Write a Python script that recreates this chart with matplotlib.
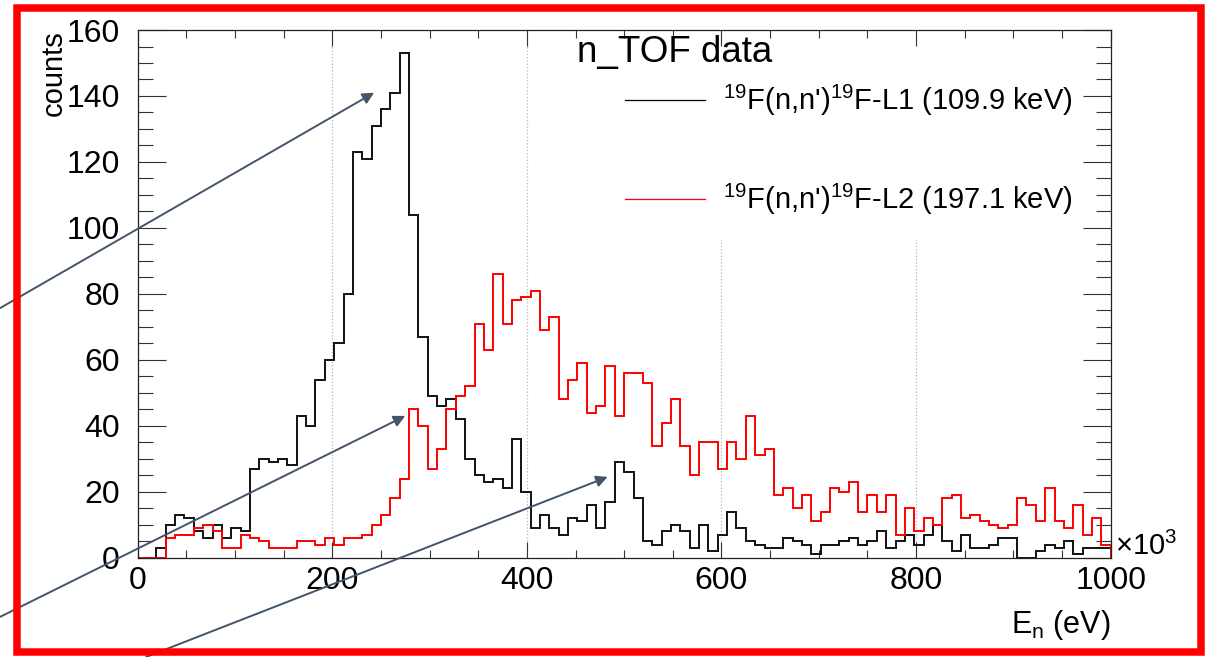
import numpy as np
import matplotlib
matplotlib.use("Agg")
import matplotlib.pyplot as plt
from matplotlib.lines import Line2D
from matplotlib.patches import Rectangle
from matplotlib.ticker import MultipleLocator

plt.rcParams['font.family'] = ['Liberation Sans', 'DejaVu Sans']
plt.rcParams['mathtext.fontset'] = 'custom'
plt.rcParams['mathtext.rm'] = 'Liberation Sans'
plt.rcParams['mathtext.default'] = 'regular'

# histogram: 104 bins between 0 and 1000 (x10^3 eV)
bin_edges = np.linspace(0, 1000, 105)

# 19F(n,n')19F-L1 (109.9 keV), black
counts_L1 = [0, 0, 3, 10, 13, 12, 8, 6, 10, 6,
             9, 8, 27, 30, 29, 30, 28, 43, 40, 54,
             60, 65, 80, 123, 121, 131, 136, 141, 153, 104,
             67, 49, 46, 48, 42, 30, 25, 23, 24, 21,
             36, 20, 9, 13, 9, 7, 12, 11, 16, 9,
             17, 29, 26, 18, 5, 4, 8, 10, 8, 3,
             10, 2, 7, 14, 9, 5, 4, 3, 3, 6,
             5, 4, 1, 4, 4, 5, 6, 4, 5, 8,
             3, 5, 7, 4, 7, 10, 5, 2, 7, 3,
             3, 4, 6, 6, 0, 0, 2, 4, 3, 5,
             1, 3, 3, 3]

# 19F(n,n')19F-L2 (197.1 keV), red
counts_L2 = [0, 0, 0, 6, 7, 7, 9, 10, 8, 3,
             3, 7, 6, 5, 3, 3, 3, 5, 5, 4,
             6, 4, 6, 6, 7, 10, 13, 18, 24, 45,
             40, 27, 33, 45, 49, 52, 71, 63, 86, 71,
             78, 79, 81, 69, 73, 48, 54, 59, 44, 46,
             58, 43, 56, 56, 53, 34, 41, 48, 34, 25,
             35, 35, 27, 35, 30, 43, 31, 33, 19, 21,
             15, 19, 11, 14, 21, 20, 23, 14, 19, 14,
             19, 7, 15, 8, 12, 10, 18, 19, 12, 13,
             11, 10, 9, 10, 18, 16, 11, 21, 11, 9,
             16, 7, 12, 4]

label_L1 = "$^{19}$F(n,n')$^{19}$F-L1 (109.9 keV)"
label_L2 = "$^{19}$F(n,n')$^{19}$F-L2 (197.1 keV)"

# arrow tips (data) and tails (figure fraction)
arrow_tips = [(243, 141), (275, 43), (483, 24.5)]
arrow_tails = [(0.0, 0.531), (0.0, 0.061), (0.121, 0.0)]

fig = plt.figure(figsize=(12.07, 6.57), dpi=100)
ax = fig.add_axes([0.1141, 0.1511, 0.8061, 0.8032])

# dotted grid at the major x ticks (below the legend box)
ax.vlines([200, 400, 600, 800], 0, 160, colors='#b5b5b5', linestyles=':', lw=0.9, zorder=0.5)
ax.add_patch(Rectangle((0.434, 0.602), 0.566, 0.398, transform=ax.transAxes,
                       facecolor='white', edgecolor='none', zorder=1))

ax.stairs(counts_L1, bin_edges, color='#111111', lw=1.4, zorder=2)
ax.stairs(counts_L2, bin_edges, color='#ff0000', lw=1.4, zorder=2.1)

ax.set_xlim(0, 1000)
ax.set_ylim(0, 160)
ax.xaxis.set_major_locator(MultipleLocator(200))
ax.xaxis.set_minor_locator(MultipleLocator(50))
ax.yaxis.set_major_locator(MultipleLocator(20))
ax.yaxis.set_minor_locator(MultipleLocator(5))
ax.tick_params(which='both', direction='in', top=True, right=True,
               color='#333333', width=0.8, labelsize=23)
ax.tick_params(axis='x', which='major', length=11.5, pad=6)
ax.tick_params(axis='x', which='minor', length=6)
ax.tick_params(axis='y', which='major', length=20, pad=13)
ax.tick_params(axis='y', which='minor', length=10.5)
for sp in ax.spines.values():
    sp.set_linewidth(0.9)
    sp.set_color('#222222')

ax.text(-0.086, 1.0, 'counts', rotation=90, ha='center', va='top',
        fontsize=21, transform=ax.transAxes)
ax.text(1.0, -0.128, 'E$_{n}$ (eV)', ha='right', va='center',
        fontsize=22, transform=ax.transAxes)
ax.text(1.004, 0.006, r'$\times$10$^{3}$', ha='left', va='baseline',
        fontsize=21, transform=ax.transAxes)
ax.text(0.4515, 0.958, 'n_TOF data', ha='left', va='center',
        fontsize=26.5, transform=ax.transAxes)

handles = [Line2D([], [], color='black', lw=0.9),
           Line2D([], [], color='#ff0000', lw=0.9)]
ax.legend(handles, [label_L1, label_L2], loc='center left',
          bbox_to_anchor=(0.5008, 0.7726), frameon=False, fontsize=21,
          handlelength=2.75, handletextpad=0.6, labelspacing=2.2,
          borderpad=0, borderaxespad=0)

for tip, tail in zip(arrow_tips, arrow_tails):
    ax.annotate('', xy=tip, xycoords='data', xytext=tail, textcoords='figure fraction',
                arrowprops=dict(arrowstyle='-|>', color='#44546a', lw=1.4,
                                mutation_scale=17, shrinkA=0, shrinkB=0),
                annotation_clip=False, zorder=5)

fig.patches.append(Rectangle((17 / 1207, 1 - 651.5 / 657), (1200.5 - 17) / 1207,
                             (651.5 - 8) / 657, transform=fig.transFigure,
                             fill=False, edgecolor='#ff0000', lw=5.4, zorder=10))

fig.savefig('out.png', dpi=100)
